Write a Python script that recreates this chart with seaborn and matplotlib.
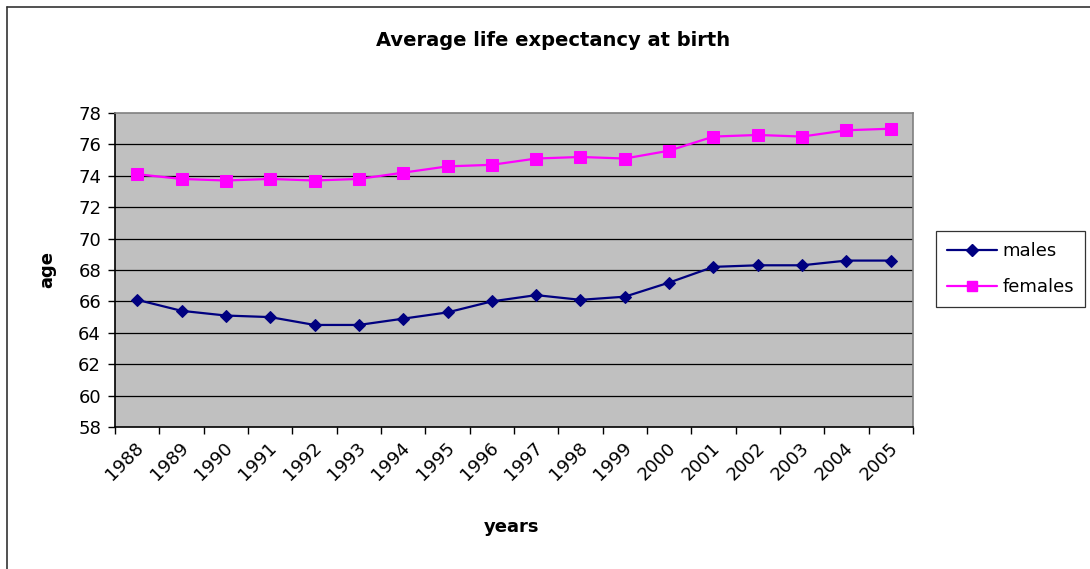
import matplotlib
matplotlib.use("Agg")
import matplotlib.pyplot as plt
import matplotlib.transforms as mtransforms
import seaborn as sns
import pandas as pd
from matplotlib.lines import Line2D
from matplotlib.ticker import FixedLocator, NullFormatter

years = ["1988", "1989", "1990", "1991", "1992", "1993", "1994", "1995", "1996",
         "1997", "1998", "1999", "2000", "2001", "2002", "2003", "2004", "2005"]
males = [66.1, 65.4, 65.1, 65.0, 64.5, 64.5, 64.9, 65.3, 66.0,
         66.4, 66.1, 66.3, 67.2, 68.2, 68.3, 68.3, 68.6, 68.6]
females = [74.1, 73.8, 73.7, 73.8, 73.7, 73.8, 74.2, 74.6, 74.7,
           75.1, 75.2, 75.1, 75.6, 76.5, 76.6, 76.5, 76.9, 77.0]
y_ticks = [58, 60, 62, 64, 66, 68, 70, 72, 74, 76, 78]

sns.set_theme(style="white")
plt.rcParams["font.family"] = ["DejaVu Sans"]
plt.rcParams["text.color"] = "black"
plt.rcParams["xtick.color"] = "black"
plt.rcParams["ytick.color"] = "black"

FS = 13
W, H = 1090, 569
fig = plt.figure(figsize=(W / 100, H / 100), dpi=100)
fig.patch.set_facecolor("white")

ax = fig.add_axes([115 / W, 1 - 427 / H, (913 - 115) / W, (427 - 113) / H])
ax.set_facecolor("#C0C0C0")

df = pd.DataFrame({"year": years, "males": males, "females": females})
pos = list(range(len(years)))
df["pos"] = pos

sns.lineplot(data=df, x="pos", y="males", ax=ax, color="#000080", lw=1.6,
             marker="D", markersize=6.5, markeredgecolor="#000080",
             markerfacecolor="#000080", zorder=4, label="males")
sns.lineplot(data=df, x="pos", y="females", ax=ax, color="#FF00FF", lw=1.6,
             marker="s", markersize=8, markeredgecolor="#FF00FF",
             markerfacecolor="#FF00FF", zorder=4, label="females")

ax.set_xlim(-0.5, len(years) - 0.5)
ax.set_ylim(58, 78)

# horizontal gridlines
for v in y_ticks[1:-1]:
    ax.axhline(v, color="black", lw=0.9, zorder=1)

# y axis
ax.set_yticks(y_ticks)
ax.set_yticklabels([str(v) for v in y_ticks], fontsize=FS, color="black")
ax.tick_params(axis="y", which="major", direction="out", length=5, width=1,
               color="black", pad=5, left=True)

# x axis: tick marks on category boundaries
ax.xaxis.set_major_locator(FixedLocator([i - 0.5 for i in range(len(years) + 1)]))
ax.xaxis.set_major_formatter(NullFormatter())
ax.tick_params(axis="x", which="major", direction="out", length=5, width=1,
               color="black", bottom=True)

# rotated category labels under each category center
label_trans = ax.get_xaxis_transform() + mtransforms.ScaledTranslation(
    4 / 100, -18 / 100, fig.dpi_scale_trans)
for p, yr in zip(pos, years):
    ax.text(p, 0, yr, transform=label_trans, fontsize=FS, rotation=45,
            ha="right", va="center", rotation_mode="anchor", color="black")

ax.set_xlabel("")
ax.set_ylabel("")

for side in ["top", "right"]:
    ax.spines[side].set_color("#808080")
    ax.spines[side].set_linewidth(1.2)
for side in ["left", "bottom"]:
    ax.spines[side].set_color("black")
    ax.spines[side].set_linewidth(1.2)

ax.get_legend().remove()

handles = [
    Line2D([], [], color="#000080", lw=1.6, marker="D", markersize=6.5,
           markerfacecolor="#000080", markeredgecolor="#000080"),
    Line2D([], [], color="#FF00FF", lw=1.6, marker="s", markersize=7,
           markerfacecolor="#FF00FF", markeredgecolor="#FF00FF"),
]
leg = fig.legend(handles, ["males", "females"], loc="upper left",
                 bbox_to_anchor=(936 / W, 1 - 231 / H), fontsize=FS,
                 frameon=True, fancybox=False, shadow=False, handlelength=2.8,
                 handletextpad=0.3, borderpad=0.6, labelspacing=1.0,
                 borderaxespad=0)
leg.get_frame().set_edgecolor("black")
leg.get_frame().set_linewidth(0.9)
for t in leg.get_texts():
    t.set_color("black")

fig.text(553 / W, 1 - 40 / H, "Average life expectancy at birth", ha="center",
         va="center", fontsize=14, fontweight="bold", color="black")
fig.text(47 / W, 1 - 270 / H, "age", ha="center", va="center", rotation=90,
         fontsize=FS, fontweight="bold", color="black")
fig.text(512 / W, 1 - 527 / H, "years", ha="center", va="center",
         fontsize=FS, fontweight="bold", color="black")

# chart frame edges
fig.add_artist(Line2D([7 / W, 7 / W], [0, 1 - 7 / H], transform=fig.transFigure,
                      color="#333333", lw=1.2))
fig.add_artist(Line2D([7 / W, 1], [1 - 7 / H, 1 - 7 / H], transform=fig.transFigure,
                      color="#333333", lw=1.2))

fig.savefig("out.png", dpi=100, facecolor="white")
